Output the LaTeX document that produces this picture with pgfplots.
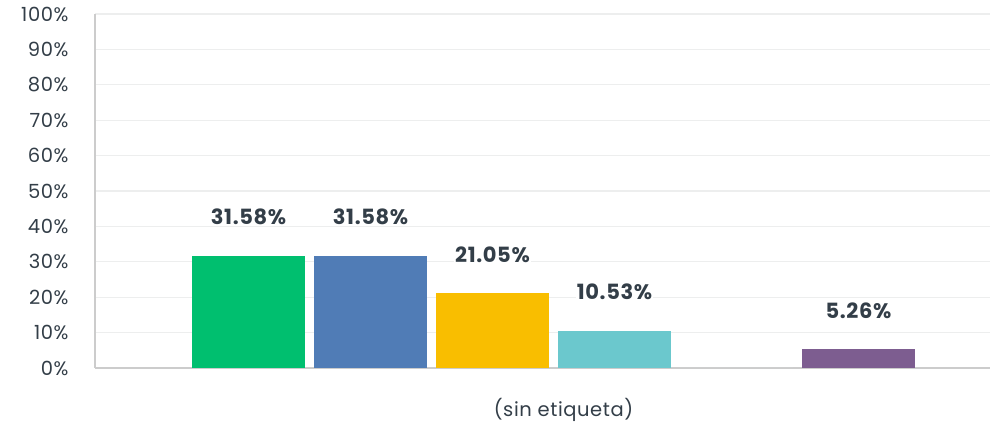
\documentclass[border=0pt]{standalone}
\usepackage{pgfplots}
\pgfplotsset{compat=1.18}
\usepackage{fontspec}
\setmainfont{Poppins}[LetterSpace=3]
\definecolor{txt}{HTML}{333E48}
\definecolor{grd}{HTML}{EDEEEE}
\definecolor{axl}{HTML}{CCCCCC}
\definecolor{cA}{HTML}{00BF6F}
\definecolor{cB}{HTML}{507CB6}
\definecolor{cC}{HTML}{F9BE00}
\definecolor{cD}{HTML}{6BC8CD}
\definecolor{cE}{HTML}{DBDCDC}
\definecolor{cF}{HTML}{7D5D90}
\begin{document}
\begin{tikzpicture}
\useasboundingbox (-95pt,-55pt) rectangle (896pt,368pt);
\begin{axis}[
  at={(0pt,0pt)}, anchor=south west,
  scale only axis, width=895pt, height=354pt,
  xmin=-458.5, xmax=436.5, ymin=0, ymax=100,
  ybar=9pt, bar width=113pt,
  axis line style={axl, line width=1.2pt},
  axis x line*=bottom, axis y line*=left,
  ymajorgrids, grid style={grd, line width=1.2pt},
  ytick={0,10,...,100},
  yticklabel={\pgfmathprintnumber{\tick}\%},
  /pgf/number format/assume math mode=true,
  yticklabel style={font=\fontsize{19.5}{22}\selectfont, text=txt, xshift=-23pt},
  xtick={10}, xticklabels={(sin etiqueta)},
  xticklabel style={font=\fontsize{19.5}{22}\selectfont, text=txt, yshift=-27pt},
  major tick length=0pt,
  nodes near coords={\pgfmathprintnumber[fixed,precision=2,fixed zerofill]{\pgfplotspointmeta}\%},
  every node near coord/.append style={font=\fontsize{21}{24}\selectfont\bfseries, text=txt, fill=white, inner sep=1pt, anchor=center, yshift=39pt},
]
\addplot[fill=cA, draw=none] coordinates {(0,31.58)};
\addplot[fill=cB, draw=none] coordinates {(0,31.58)};
\addplot[fill=cC, draw=none] coordinates {(0,21.05)};
\addplot[fill=cD, draw=none] coordinates {(0,10.53)};
\addplot[fill=cE, draw=none, nodes near coords={}] coordinates {(0,0)};
\addplot[fill=cF, draw=none] coordinates {(0,5.26)};
\end{axis}
\end{tikzpicture}
\end{document}
